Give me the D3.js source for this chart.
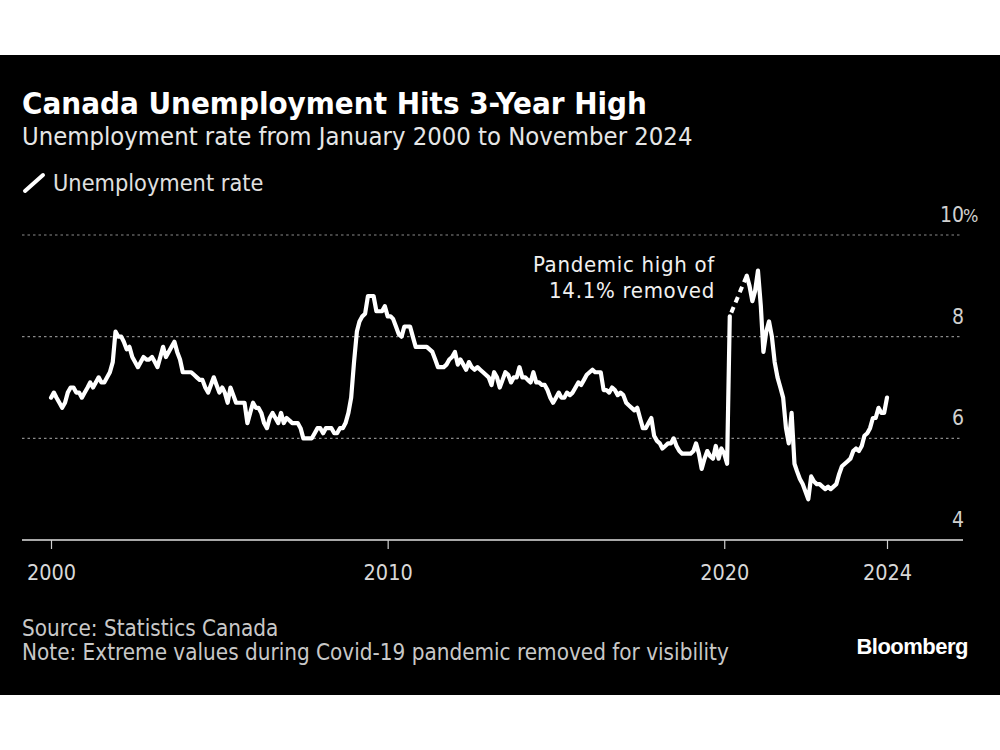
<!DOCTYPE html>
<html>
<head>
<meta charset="utf-8">
<script src="https://cdn.jsdelivr.net/npm/d3@7"></script>
<style>
  html, body { margin: 0; padding: 0; background: #ffffff; }
  svg { display: block; }
</style>
</head>
<body>
<div id="chart"></div>
<script>
// ---------------- DATA ----------------
const startYear = 2000;   // first month: January 2000, monthly through November 2024
const rate2000 = [6.8, 6.9, 6.8, 6.7, 6.6, 6.7, 6.9, 7.0, 7.0, 6.9, 6.9, 6.8];
const rate2001 = [6.9, 7.0, 7.1, 7.0, 7.1, 7.2, 7.1, 7.1, 7.2, 7.3, 7.5, 8.1];
const rate2002 = [8.0, 8.0, 7.9, 7.75, 7.8, 7.6, 7.5, 7.4, 7.5, 7.6, 7.55, 7.55];
const rate2003 = [7.6, 7.5, 7.4, 7.6, 7.8, 7.6, 7.7, 7.8, 7.9, 7.7, 7.55, 7.3];
const rate2004 = [7.3, 7.3, 7.3, 7.25, 7.2, 7.15, 7.15, 7.0, 6.9, 7.05, 7.2, 7.05];
const rate2005 = [6.9, 7.0, 6.9, 6.7, 7.0, 6.85, 6.7, 6.7, 6.7, 6.7, 6.3, 6.5];
const rate2006 = [6.7, 6.6, 6.6, 6.5, 6.3, 6.2, 6.4, 6.5, 6.4, 6.3, 6.5, 6.3];
const rate2007 = [6.4, 6.35, 6.3, 6.3, 6.3, 6.2, 6.0, 6.0, 6.0, 6.0, 6.1, 6.2];
const rate2008 = [6.2, 6.1, 6.2, 6.2, 6.2, 6.1, 6.1, 6.2, 6.2, 6.3, 6.5, 6.8];
const rate2009 = [7.5, 8.1, 8.3, 8.4, 8.45, 8.8, 8.8, 8.8, 8.5, 8.5, 8.5, 8.6];
const rate2010 = [8.4, 8.4, 8.35, 8.2, 8.05, 8.0, 8.2, 8.2, 8.2, 8.0, 7.8, 7.8];
const rate2011 = [7.8, 7.8, 7.8, 7.75, 7.7, 7.55, 7.4, 7.4, 7.4, 7.45, 7.55, 7.6];
const rate2012 = [7.7, 7.45, 7.55, 7.45, 7.35, 7.5, 7.4, 7.35, 7.4, 7.35, 7.3, 7.25];
const rate2013 = [7.2, 7.05, 7.3, 7.2, 7.0, 7.15, 7.3, 7.25, 7.1, 7.2, 7.2, 7.4];
const rate2014 = [7.2, 7.2, 7.15, 7.1, 7.3, 7.1, 7.1, 7.05, 7.05, 6.95, 6.8, 6.7];
const rate2015 = [6.8, 6.9, 6.8, 6.8, 6.9, 6.85, 6.9, 7.0, 7.1, 7.05, 7.15, 7.25];
const rate2016 = [7.3, 7.35, 7.3, 7.3, 7.3, 6.95, 6.95, 6.9, 7.0, 6.95, 6.85, 6.9];
const rate2017 = [6.85, 6.7, 6.65, 6.6, 6.55, 6.6, 6.4, 6.2, 6.2, 6.3, 6.4, 6.05];
const rate2018 = [5.95, 5.9, 5.8, 5.85, 5.9, 5.9, 6.0, 5.85, 5.75, 5.7, 5.7, 5.7];
const rate2019 = [5.7, 5.75, 5.9, 5.7, 5.4, 5.6, 5.75, 5.65, 5.6, 5.85, 5.6, 5.8];
// April–August 2020 removed for visibility (null)
const rate2020 = [5.7, 5.5, 8.4, null, null, null, null, null, 9.2, 9.0, 8.7, 8.9];
const rate2021 = [9.3, 8.6, 7.7, 8.1, 8.3, 8.0, 7.5, 7.2, 7.0, 6.8, 6.2, 5.9];
const rate2022 = [6.5, 5.5, 5.35, 5.2, 5.1, 4.95, 4.8, 5.25, 5.15, 5.1, 5.1, 5.05];
const rate2023 = [5.0, 5.05, 5.0, 5.05, 5.1, 5.3, 5.45, 5.5, 5.55, 5.6, 5.75, 5.8];
const rate2024 = [5.75, 5.85, 6.05, 6.1, 6.2, 6.4, 6.4, 6.6, 6.5, 6.5, 6.8];

const yTickValues = [4, 6, 8, 10];
const yTickLabels = ["4", "6", "8", "10"];
const xTickDates = ["2000-01", "2010-01", "2020-01", "2024-11"];
const xTickLabels = ["2000", "2010", "2020", "2024"];

const titleText = "Canada Unemployment Hits 3-Year High";
const subtitleText = "Unemployment rate from January 2000 to November 2024";
const legendText = "Unemployment rate";
const annotationLines = ["Pandemic high of", "14.1% removed"];
const sourceText = "Source: Statistics Canada";
const noteText = "Note: Extreme values during Covid-19 pandemic removed for visibility";
const brandText = "Bloomberg";

// ---------------- BUILD ----------------
const allRates = [].concat(rate2000, rate2001, rate2002, rate2003, rate2004, rate2005,
  rate2006, rate2007, rate2008, rate2009, rate2010, rate2011, rate2012, rate2013,
  rate2014, rate2015, rate2016, rate2017, rate2018, rate2019, rate2020, rate2021,
  rate2022, rate2023, rate2024);
const series = allRates.map((v, i) => ({ date: new Date(startYear, i, 1), value: v }));

// bridge over the removed months (last value before gap, first after)
const firstNull = series.findIndex(d => d.value === null);
let afterGap = firstNull;
while (series[afterGap].value === null) afterGap++;
const bridge = [series[firstNull - 1], series[afterGap]];

const W = 1000, H = 750;
const svg = d3.select("#chart").append("svg").attr("width", W).attr("height", H);

svg.append("rect").attr("x", 0).attr("y", 55).attr("width", W).attr("height", 640).attr("fill", "#000");

const parse = d3.timeParse("%Y-%m");
const x = d3.scaleTime()
  .domain([new Date(startYear, 0, 1), series[series.length - 1].date])
  .range([51, 887]);
const y = d3.scaleLinear().domain([4, 10]).range([540, 235]);

const fontMain = '"DejaVu Sans Condensed", "Liberation Sans Narrow", "DejaVu Sans", sans-serif';

// Title & subtitle
svg.append("text").attr("x", 22).attr("y", 114)
  .attr("font-family", fontMain).attr("font-weight", "bold").attr("font-size", 31)
  .attr("fill", "#fff").text(titleText);
svg.append("text").attr("x", 22).attr("y", 145)
  .attr("font-family", fontMain).attr("font-size", 25.4)
  .attr("fill", "#e6e6e6").text(subtitleText);

// Legend
svg.append("line").attr("x1", 25).attr("y1", 191).attr("x2", 43).attr("y2", 175)
  .attr("stroke", "#fff").attr("stroke-width", 4).attr("stroke-linecap", "round");
svg.append("text").attr("x", 53).attr("y", 191)
  .attr("font-family", fontMain).attr("font-size", 23.3)
  .attr("fill", "#e0e0e0").text(legendText);

// Gridlines (dotted) except baseline
const grid = svg.append("g");
grid.selectAll("line").data(yTickValues.filter(v => v !== 4)).join("line")
  .attr("x1", 22).attr("x2", 962)
  .attr("y1", d => y(d)).attr("y2", d => y(d))
  .attr("stroke", "#8a8a8a").attr("stroke-width", 1.2).attr("stroke-dasharray", "2.5,3");

// Y labels (right-aligned, above gridlines; % hangs)
const yl = svg.append("g").attr("font-family", fontMain).attr("font-size", 21).attr("fill", "#d0d0d0");
yTickValues.forEach((v, i) => {
  yl.append("text").attr("x", 964).attr("y", y(v) - 13).attr("text-anchor", "end").text(yTickLabels[i]);
  if (i === yTickValues.length - 1) {
    yl.append("text").attr("x", 963).attr("y", y(v) - 13).attr("text-anchor", "start")
      .attr("font-size", 18).text("%");
  }
});

// X axis
const xAxis = d3.axisBottom(x)
  .tickValues(xTickDates.map(parse))
  .tickFormat((d, i) => xTickLabels[i])
  .tickSize(9).tickSizeOuter(0).tickPadding(16);
const gx = svg.append("g").attr("transform", `translate(0,${y(4)})`).call(xAxis);
gx.select(".domain").remove();
gx.insert("line", ":first-child").attr("x1", 22).attr("x2", 963).attr("y1", 0).attr("y2", 0)
  .attr("stroke", "#e0e0e0").attr("stroke-width", 1.6);
gx.selectAll(".tick line").attr("stroke", "#d0d0d0").attr("stroke-width", 1.2);
gx.selectAll(".tick text").attr("font-family", fontMain).attr("font-size", 21.5).attr("fill", "#d8d8d8");

// Line
const line = d3.line().defined(d => d.value !== null)
  .x(d => x(d.date)).y(d => y(d.value)).curve(d3.curveLinear);
svg.append("path").datum(series).attr("d", line)
  .attr("fill", "none").attr("stroke", "#fff").attr("stroke-width", 4.2)
  .attr("stroke-linejoin", "round").attr("stroke-linecap", "round");

// Dashed bridge over removed values
svg.append("path").datum(bridge).attr("d", d3.line().x(d => x(d.date)).y(d => y(d.value)))
  .attr("fill", "none").attr("stroke", "#fff").attr("stroke-width", 4)
  .attr("stroke-dasharray", "6,5").attr("stroke-dashoffset", -4);

// Annotation (two separate lines)
annotationLines.forEach((t, i) => {
  svg.append("text").attr("x", 715).attr("y", 272 + i * 26)
    .attr("font-family", fontMain).attr("font-size", 22).attr("letter-spacing", 0.7)
    .attr("fill", "#f0f0f0").attr("text-anchor", "end").text(t);
});

// Footer
svg.append("text").attr("x", 22).attr("y", 636).attr("font-family", fontMain)
  .attr("font-size", 22.3).attr("fill", "#c8c8c8").text(sourceText);
svg.append("text").attr("x", 22).attr("y", 660).attr("font-family", fontMain)
  .attr("font-size", 22.3).attr("fill", "#c8c8c8").text(noteText);
svg.append("text").attr("x", 968).attr("y", 654).attr("text-anchor", "end")
  .attr("font-family", '"Liberation Sans", Arial, sans-serif').attr("font-weight", "bold")
  .attr("font-size", 22).attr("letter-spacing", -0.5).attr("fill", "#fff").text(brandText);
</script>
</body>
</html>
